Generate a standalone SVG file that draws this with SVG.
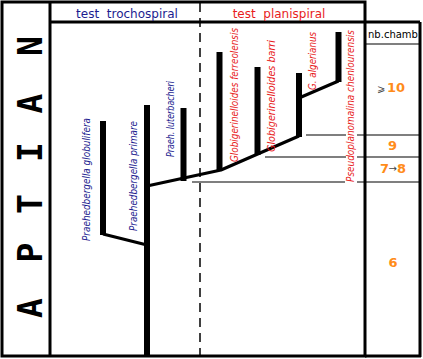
<svg xmlns="http://www.w3.org/2000/svg" width="423" height="359" viewBox="0 0 423 359">
<style>
.frame{fill:none;stroke:#000;stroke-width:3}
.thin{stroke:#000;stroke-width:1.2;fill:none}
.dash{stroke:#000;stroke-width:1.5;stroke-dasharray:9 6;fill:none}
.bar{stroke:#000;stroke-width:6;fill:none}
.link{stroke:#000;stroke-width:3;fill:none;stroke-linejoin:round}
.big{font-family:"DejaVu Sans Mono","Liberation Mono",monospace;font-weight:bold;font-size:33px;fill:#000;text-anchor:middle}
.hdr{font-family:"DejaVu Sans",Verdana,sans-serif;font-size:12px;text-anchor:middle}
.lbl{font-family:"DejaVu Sans",Verdana,sans-serif;font-size:9.6px;font-style:italic}
.blue{fill:#1c1c90}
.red{fill:#e81c1c}
.num{font-family:"DejaVu Sans",Verdana,sans-serif;font-weight:bold;font-size:13px;fill:#ff8c1a;text-anchor:middle}
.sym{font-family:"DejaVu Sans",sans-serif;font-size:10px;fill:#444}
</style>
<rect width="423" height="359" fill="#fff"/>
<g id="frame">
<rect class="frame" x="2" y="2" width="363" height="354"/>
<line class="frame" x1="50" y1="2" x2="50" y2="356"/>
<line class="frame" x1="50" y1="22" x2="420" y2="22"/>
<line class="frame" x1="420" y1="22" x2="420" y2="357"/>
<line class="frame" x1="365" y1="356" x2="421" y2="356"/>
<line class="thin" x1="365" y1="44" x2="420" y2="44"/>
<line class="dash" x1="200" y1="3" x2="200" y2="355"/>
</g>
<g id="stage-label">
<text class="big" transform="translate(42,46) rotate(-90)">N</text>
<text class="big" transform="translate(42,103.5) rotate(-90)">A</text>
<text class="big" transform="translate(42,152) rotate(-90)">I</text>
<text class="big" transform="translate(42,204) rotate(-90)">T</text>
<text class="big" transform="translate(42,252.5) rotate(-90)">P</text>
<text class="big" transform="translate(42,308) rotate(-90)">A</text>
</g>
<g id="headers">
<text class="hdr blue" x="127" y="18" xml:space="preserve">test  trochospiral</text>
<text class="hdr red" x="279" y="18" xml:space="preserve">test  planispiral</text>
<text x="393" y="38" font-family="DejaVu Sans, Verdana, sans-serif" font-size="10" text-anchor="middle" fill="#000">nb.chamb</text>
</g>
<g id="connectors">
<path class="thin" d="M306 135H346M357 135H420"/>
<path class="thin" d="M265 157H346M357 157H420"/>
<path class="thin" d="M192 182H345M357 182H420"/>
<polyline class="link" points="103,234 147,245"/>
<polyline class="link" points="147,186 221,170 299,136"/>
<polyline class="link" points="299,98 338.5,81"/>
</g>
<g id="globulifera">
<line class="bar" x1="103" y1="121" x2="103" y2="235"/>
<text class="lbl blue" transform="translate(90,241) rotate(-90)" textLength="123" lengthAdjust="spacingAndGlyphs">Praehedbergella globulifera</text>
</g>
<g id="primare">
<line class="bar" x1="147" y1="105" x2="147" y2="356"/>
<text class="lbl blue" transform="translate(137,231) rotate(-90)" textLength="110" lengthAdjust="spacingAndGlyphs">Praehedbergella primare</text>
</g>
<g id="luterbacheri">
<line class="bar" x1="183.5" y1="108" x2="183.5" y2="181"/>
<text class="lbl blue" transform="translate(174,157) rotate(-90)" textLength="76" lengthAdjust="spacingAndGlyphs">Praeh. luterbacheri</text>
</g>
<g id="ferreolensis">
<line class="bar" x1="219.5" y1="52" x2="219.5" y2="171"/>
<text class="lbl red" transform="translate(238,162) rotate(-90)" textLength="134" lengthAdjust="spacingAndGlyphs">Globigerinelloides ferreolensis</text>
</g>
<g id="barri">
<line class="bar" x1="257.5" y1="67" x2="257.5" y2="155"/>
<text class="lbl red" transform="translate(275,152) rotate(-90)" textLength="112" lengthAdjust="spacingAndGlyphs">Globigerinelloides barri</text>
</g>
<g id="algerianus">
<line class="bar" x1="299" y1="73" x2="299" y2="137"/>
<text class="lbl red" transform="translate(316,90) rotate(-90)" textLength="58" lengthAdjust="spacingAndGlyphs">G. algerianus</text>
</g>
<g id="chenlourensis">
<line class="bar" x1="338.5" y1="32" x2="338.5" y2="82"/>
<text class="lbl red" transform="translate(354,182) rotate(-90)" textLength="152" lengthAdjust="spacingAndGlyphs">Pseudoplanomalina chenlourensis</text>
</g>
<g id="chambers">
<text class="sym" x="377" y="92">⩾</text>
<text class="num" x="396" y="92">10</text>
<text class="num" x="392.5" y="150">9</text>
<text class="num" x="384.5" y="173">7</text>
<text class="sym" x="388.5" y="172" font-size="9">→</text>
<text class="num" x="401.5" y="173">8</text>
<text class="num" x="393" y="267">6</text>
</g>
</svg>
